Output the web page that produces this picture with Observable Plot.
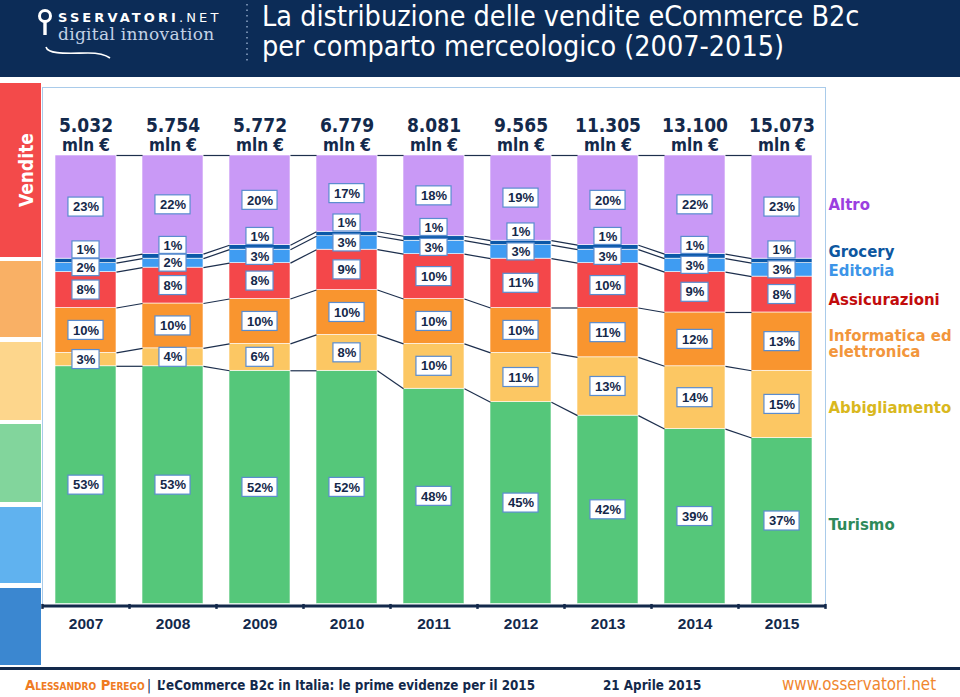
<!DOCTYPE html>
<html>
<head>
<meta charset="utf-8">
<script src="https://cdn.jsdelivr.net/npm/d3@7"></script>
<script src="https://cdn.jsdelivr.net/npm/@observablehq/plot@0.6"></script>
<style>
  body { margin: 0; width: 960px; height: 697px; position: relative; overflow: hidden; background: #fff;
         font-family: "DejaVu Sans Condensed", "DejaVu Sans", sans-serif; }
  #header { position: absolute; left: 0; top: 0; width: 960px; height: 77px; background: #0c2c57; }
  #title { position: absolute; left: 262px; top: 2px; margin: 0; color: #fff; font-weight: normal;
           font-size: 28.5px; line-height: 30px; white-space: nowrap; font-family: "DejaVu Sans Condensed", "DejaVu Sans", sans-serif; }
  #logo { position: absolute; left: 0; top: 0; }
  .strip { position: absolute; left: 0; width: 41px; }
  #vendite { position: absolute; left: 26px; top: 170px; transform: translate(-50%, -50%) rotate(-90deg);
             color: #fff; font-weight: bold; font-size: 19px; white-space: nowrap; }
  #box { position: absolute; left: 42px; top: 87px; width: 782px; height: 518px;
         border-top: 1.5px solid #a9cbea; border-left: 1.5px solid #a9cbea; border-right: 1.5px solid #a9cbea; }
  #chart { position: absolute; left: 0; top: 80px; }
  #footline { position: absolute; left: 0; top: 667px; width: 960px; height: 2.5px; background: #13294b; }
  .foot { position: absolute; top: 677px; font-size: 13.3px; font-weight: bold; color: #13294b; white-space: nowrap; line-height: 17px; }
</style>
</head>
<body>
<div id="header">
  <svg id="logo" width="250" height="77">
    <circle cx="45" cy="16" r="5.5" fill="none" stroke="#fff" stroke-width="3"/>
    <rect x="43.3" y="21" width="3.4" height="14" fill="#fff"/>
    <text x="58" y="22" fill="#fff" font-family="DejaVu Sans" font-weight="bold" font-size="13" letter-spacing="3.1">SSERVATORI<tspan font-weight="normal">.NET</tspan></text>
    <text x="58" y="40" fill="#c3d2e6" font-family="DejaVu Serif" font-size="17" letter-spacing="0.3">digital innovation</text>
    <path d="M46,47 C48,55 70,53 88,53 C98,53 106,55 110,58" fill="none" stroke="#fff" stroke-width="1.6"/>
    <line x1="247" y1="4" x2="247" y2="62" stroke="#8fa6c6" stroke-width="1.5" stroke-dasharray="1.5 4"/>
  </svg>
  <h1 id="title">La distribuzione delle vendite eCommerce B2c<br>per comparto merceologico (2007-2015)</h1>
</div>

<div class="strip" style="top:83px;height:174px;background:#f34a4a"></div>
<div class="strip" style="top:261px;height:76px;background:#f9b065"></div>
<div class="strip" style="top:342px;height:78px;background:#fdd68c"></div>
<div class="strip" style="top:424px;height:78px;background:#82d59c"></div>
<div class="strip" style="top:507px;height:76px;background:#60b2ef"></div>
<div class="strip" style="top:588px;height:77px;background:#3b87d0"></div>
<div id="vendite">Vendite</div>
<div id="box"></div>
<div id="chart"></div>
<div id="footline"></div>
<div class="foot" style="left:25px;top:676px;color:#ef7b22;font-variant:small-caps;font-size:14.6px">Alessandro Perego</div>
<div class="foot" style="left:147px;font-weight:normal">|</div>
<div class="foot" style="left:157px;">L’eCommerce B2c in Italia: le prime evidenze per il 2015</div>
<div class="foot" style="left:603px;">21 Aprile 2015</div>
<div class="foot" style="left:782px;top:676px;color:#f0862e;font-weight:normal;font-size:16.8px">www.osservatori.net</div>

<script>
// ---- data ----
const years = ["2007", "2008", "2009", "2010", "2011", "2012", "2013", "2014", "2015"];
const totals = ["5.032", "5.754", "5.772", "6.779", "8.081", "9.565", "11.305", "13.100", "15.073"];
const series = ["Turismo", "Abbigliamento", "Informatica ed elettronica", "Assicurazioni", "Editoria", "Grocery", "Altro"];
const turismo       = [53, 53, 52, 52, 48, 45, 42, 39, 37];
const abbigliamento = [3, 4, 6, 8, 10, 11, 13, 14, 15];
const informatica   = [10, 10, 10, 10, 10, 10, 11, 12, 13];
const assicurazioni = [8, 8, 8, 9, 10, 11, 10, 9, 8];
const editoria      = [2, 2, 3, 3, 3, 3, 3, 3, 3];
const grocery       = [1, 1, 1, 1, 1, 1, 1, 1, 1];
const altro         = [23, 22, 20, 17, 18, 19, 20, 22, 23];
const unitLabel = "mln €";

// ---- styles ----
const barColors = ["#55c77a", "#fcc763", "#f9952f", "#f4474a", "#3f9cf2", "#0b58a8", "#c999f6"];
const legendColors = {
  "Turismo": "#2e8a5a", "Abbigliamento": "#d9b81e", "Informatica ed elettronica": "#f2963c",
  "Assicurazioni": "#c20c0c", "Editoria": "#3d95e8", "Grocery": "#0d57a0", "Altro": "#9b3fe0"
};
const legendDy = {
  "Turismo": 3.5, "Abbigliamento": 3, "Informatica ed elettronica": 2,
  "Assicurazioni": 5, "Editoria": 0.5, "Grocery": -9.5, "Altro": -2
};
const navy = "#13294b";
const cond = "'DejaVu Sans Condensed', 'DejaVu Sans', sans-serif";
const arial = "'Liberation Sans', Arial, sans-serif";

// ---- build table ----
const values = [turismo, abbigliamento, informatica, assicurazioni, editoria, grocery, altro];
const rows = [];
years.forEach((yr, i) => {
  let c = 0;
  series.forEach((s, k) => {
    const v = values[k][i];
    rows.push({year: yr, series: s, value: v, y1: c, y2: c + v, mid: c + v / 2, label: v + "%"});
    c += v;
  });
});
const get = (yr, s) => rows.find(r => r.year === yr && r.series === s);
const links = [];
for (let i = 0; i < years.length - 1; i++) {
  series.forEach(s => {
    links.push({x1: years[i], x2: years[i + 1], y1: get(years[i], s).y2, y2: get(years[i + 1], s).y2});
  });
}

// ---- layout ----
const W = 960, H = 588, mL = 42, mR = 135, mT = 75, mB = 64.5;
const pI = 0.3, pO = 0.15;
const step = (W - mL - mR) / (years.length - pI + 2 * pO);
const half = step * (1 - pI) / 2;

// link curve: from right edge of one bar to left edge of the next
function edgeCurve(ctx) {
  let p = [];
  return {
    lineStart() { p = []; },
    lineEnd() {
      if (p.length >= 2) {
        ctx.moveTo(p[0][0] + half, p[0][1]);
        ctx.lineTo(p[p.length - 1][0] - half, p[p.length - 1][1]);
      }
    },
    point(x, y) { p.push([x, y]); },
    areaStart() {}, areaEnd() {}
  };
}

const small = new Set(["Grocery", "Editoria"]);
const wide = rows.filter(r => r.label.length === 3);
const narrow = rows.filter(r => r.label.length === 2 && !small.has(r.series));
const edit = rows.filter(r => r.series === "Editoria");
const groc = rows.filter(r => r.series === "Grocery");
const wInset = half - 17.5, nInset = half - 13.5;
const boxStyle = {x: "year", y1: "mid", y2: "mid", fill: "white", stroke: "#5a8ccf", strokeWidth: 1.2};
const labelStyle = {x: "year", y: "mid", text: "label", fill: "#14284a", fontSize: 13, fontWeight: "bold", fontFamily: arial};

const legendMarks = series.map(s => Plot.text(rows.filter(r => r.year === years[years.length - 1] && r.series === s), {
  x: "year", y: "mid", dx: 46.5, dy: legendDy[s], textAnchor: "start",
  text: d => d.series === "Informatica ed elettronica" ? "Informatica ed\nelettronica" : d.series,
  fill: legendColors[s], fontSize: 16.6, fontWeight: "bold", fontFamily: cond, lineHeight: 1.0
}));

const chart = Plot.plot({
  width: W, height: H,
  marginLeft: mL, marginRight: mR, marginTop: mT, marginBottom: mB,
  style: {background: "transparent", overflow: "visible"},
  x: {type: "band", domain: years, paddingInner: pI, paddingOuter: pO, axis: null},
  y: {domain: [0, 100], axis: null},
  color: {domain: series, range: barColors},
  marks: [
    Plot.barY(rows, {x: "year", y1: "y1", y2: "y2", fill: "series", stroke: "white", strokeWidth: 0.6}),
    Plot.link(links, {x1: "x1", x2: "x2", y1: "y1", y2: "y2", curve: edgeCurve, stroke: "#1d2f4d", strokeWidth: 1.2}),
    Plot.ruleY([0], {stroke: navy, strokeWidth: 3, dy: 2}),
    Plot.ruleX(years, {x: d => d, dx: -step / 2, y1: -0.1, y2: -1.2, stroke: navy, strokeWidth: 2.5}),
    Plot.ruleX([years[years.length - 1]], {x: d => d, dx: step / 2, y1: -0.1, y2: -1.2, stroke: navy, strokeWidth: 2.5}),
    Plot.barY(wide, {...boxStyle, insetLeft: wInset, insetRight: wInset, insetTop: -9.5, insetBottom: -9.5}),
    Plot.barY(narrow, {...boxStyle, insetLeft: nInset, insetRight: nInset, insetTop: -9.5, insetBottom: -9.5}),
    Plot.barY(edit, {...boxStyle, insetLeft: nInset, insetRight: nInset, insetTop: -8.5, insetBottom: -8.5}),
    Plot.barY(groc, {...boxStyle, insetLeft: nInset, insetRight: nInset, insetTop: -8.5, insetBottom: -8.5, dy: -11}),
    Plot.text(rows.filter(r => r.series !== "Grocery"), labelStyle),
    Plot.text(groc, {...labelStyle, dy: -11}),
    Plot.text(years, {x: d => d, y: 100, dy: -30, text: (d, i) => totals[i], fill: navy, fontSize: 19, fontWeight: "bold", fontFamily: cond}),
    Plot.text(years, {x: d => d, y: 100, dy: -10, text: () => unitLabel, fill: navy, fontSize: 17, fontWeight: "bold", fontFamily: cond}),
    Plot.text(years, {x: d => d, y: 0, dy: 20.5, text: d => d, fill: navy, fontSize: 15.5, fontWeight: "bold", fontFamily: arial}),
    ...legendMarks
  ]
});
document.getElementById("chart").appendChild(chart);
</script>
</body>
</html>
